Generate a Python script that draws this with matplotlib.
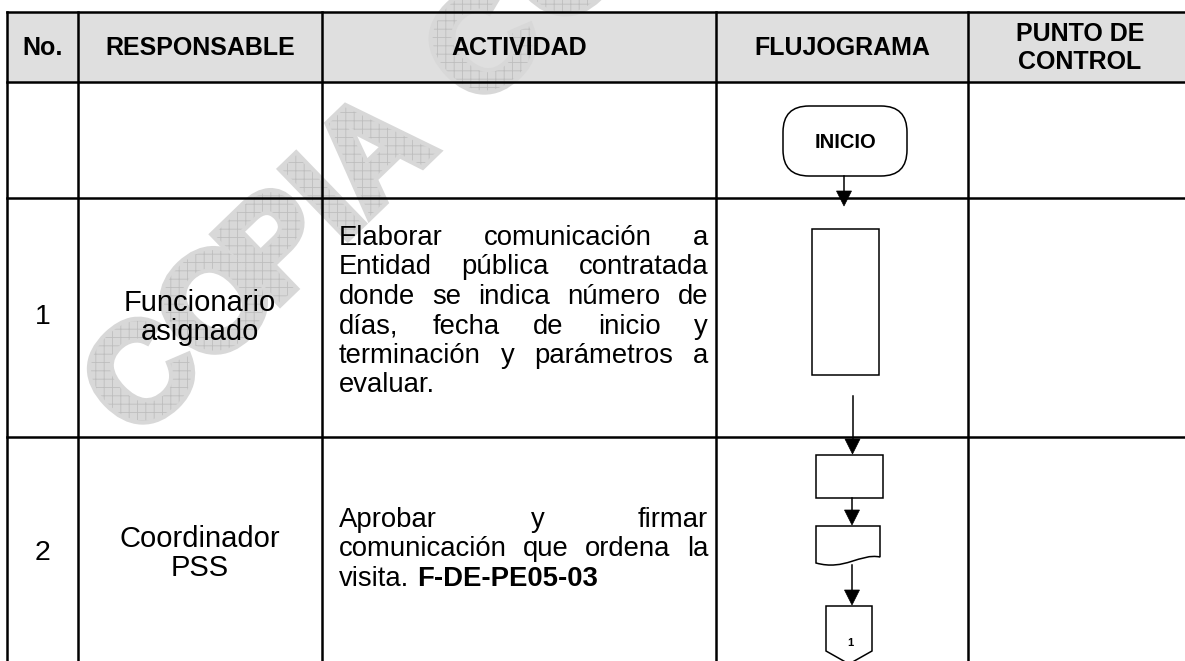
import numpy as np
import matplotlib.pyplot as plt
from matplotlib.patches import Rectangle, FancyBboxPatch, Polygon, PathPatch
from matplotlib.textpath import TextPath
from matplotlib.font_manager import FontProperties
from matplotlib.transforms import Affine2D
from matplotlib.path import Path

plt.rcParams['font.family'] = ['Liberation Sans', 'DejaVu Sans']
plt.rcParams['hatch.linewidth'] = 0.6

W, H = 1185, 661

# table content
headers = ['No.', 'RESPONSABLE', 'ACTIVIDAD', 'FLUJOGRAMA', 'PUNTO DE\nCONTROL']
numeros = ['', '1', '2']
responsables = ['', 'Funcionario\nasignado', 'Coordinador\nPSS']
actividad_1 = ['Elaborar comunicación a',
               'Entidad pública contratada',
               'donde se indica número de',
               'días, fecha de inicio y',
               'terminación y parámetros a',
               'evaluar.']
actividad_2 = ['Aprobar y firmar',
               'comunicación que ordena la',
               'visita.']
formato_2 = 'F-DE-PE05-03'
inicio = 'INICIO'
conector = '1'
marca = 'COPIACO'

# layout (pixels)
col_x = [7, 78, 322, 716, 968, 1192]
row_y = [12, 82, 198, 437, 670]
txt_x0, txt_x1 = 339, 708
lh = 29.5
fs_body = 19.8

fig = plt.figure(figsize=(W / 100, H / 100), dpi=100)
ax = fig.add_axes([0, 0, 1, 1])
ax.set_xlim(0, W)
ax.set_ylim(H, 0)
ax.axis('off')

# header background
ax.add_patch(Rectangle((col_x[0], row_y[0]), col_x[-1] - col_x[0], row_y[1] - row_y[0],
                       fc='#dfdfdf', ec='none', zorder=0))

# watermark, one letter at a time along a 44 degree baseline
fp_mark = FontProperties(family='Liberation Sans', weight='bold')
ang = 44
u = np.array([np.cos(np.radians(ang)), -np.sin(np.radians(ang))])
start = np.array([140, 372])
steps = [0, 103, 188, 253, 320, 475, 590]
for ch, s in zip(marca, steps):
    tp = TextPath((0, 0), ch, size=138, prop=fp_mark)
    ext = tp.get_extents()
    c = start + s * u
    tr = (Affine2D().translate(-(ext.x0 + ext.x1) / 2, -(ext.y0 + ext.y1) / 2)
          .scale(1, -1).rotate_deg(-ang).translate(c[0], c[1]))
    p = tr.transform_path(tp)
    ax.add_patch(PathPatch(p, fc='#d8d8d8', ec='#d8d8d8', lw=6, zorder=1))
    ax.add_patch(PathPatch(p, fc='#d8d8d8', ec='#bebebe', lw=0, hatch='++', zorder=1.1))

# grid lines
for y in row_y[:4]:
    ax.plot([col_x[0], W + 10], [y, y], color='k', lw=1.8, zorder=3)
for x in col_x:
    ax.plot([x, x], [row_y[0], H + 10], color='k', lw=1.8, zorder=3)

# header text
for i, h in enumerate(headers):
    cx = (col_x[i] + col_x[i + 1]) / 2
    ax.text(cx, (row_y[0] + row_y[1]) / 2 + 1, h, ha='center', va='center',
            fontsize=18, fontweight='bold', linespacing=1.25, zorder=4)

for i in range(1, 3):
    cy = (row_y[i + 1] + row_y[i + 2]) / 2
    ax.text((col_x[0] + col_x[1]) / 2, cy, numeros[i], ha='center', va='center',
            fontsize=20.5, zorder=4)
    ax.text((col_x[1] + col_x[2]) / 2, cy, responsables[i], ha='center', va='center',
            fontsize=21, linespacing=1.02, zorder=4)

renderer = fig.canvas.get_renderer()


def width_of(s, **kw):
    t = ax.text(0, 0, s, fontsize=fs_body, **kw)
    w = t.get_window_extent(renderer=renderer).width
    t.remove()
    return w


def justified(lines, y0, tail=None):
    for i, line in enumerate(lines):
        y = y0 + i * lh
        words = line.split()
        if i == len(lines) - 1 or len(words) == 1:
            ax.text(txt_x0, y, line, ha='left', va='baseline', fontsize=fs_body, zorder=4)
            if tail:
                x = txt_x0 + width_of(line + ' ')
                ax.text(x, y, tail, ha='left', va='baseline', fontsize=fs_body,
                        fontweight='bold', zorder=4)
            continue
        ws = [width_of(w) for w in words]
        gap = (txt_x1 - txt_x0 - sum(ws)) / (len(words) - 1)
        x = txt_x0
        for w, wd in zip(words, ws):
            ax.text(x, y, w, ha='left', va='baseline', fontsize=fs_body, zorder=4)
            x += wd + gap


justified(actividad_1, 245)
justified(actividad_2, 527, tail=formato_2)

# flowchart
lw = 1.1


def arrow(x, y0, y1):
    ax.plot([x, x], [y0, y1 - 12], color='k', lw=lw, zorder=4)
    ax.add_patch(Polygon([[x - 7.5, y1 - 15], [x + 7.5, y1 - 15], [x, y1]],
                         closed=True, fc='k', ec='k', lw=0.5, zorder=4))


ax.add_patch(FancyBboxPatch((783, 106), 124, 70, boxstyle='round,pad=0,rounding_size=26',
                            fc='white', ec='k', lw=lw, zorder=4))
ax.text(845, 142, inicio, ha='center', va='center', fontsize=14.5, fontweight='bold', zorder=5)
arrow(844, 176, 206)

ax.add_patch(Rectangle((812, 229), 67, 146, fc='white', ec='k', lw=lw, zorder=4))
arrow(852.5, 396, 454)
ax.add_patch(Rectangle((816, 455), 67, 43, fc='white', ec='k', lw=lw, zorder=4))
arrow(852, 498, 525)

doc = Path([(816, 526), (880, 526), (880, 557), (860, 553), (845, 571), (816, 563),
            (816, 526), (816, 526)],
           [Path.MOVETO, Path.LINETO, Path.LINETO, Path.CURVE4, Path.CURVE4, Path.CURVE4,
            Path.LINETO, Path.CLOSEPOLY])
ax.add_patch(PathPatch(doc, fc='white', ec='k', lw=lw, zorder=4))
arrow(852, 565, 605)

ax.add_patch(Polygon([[826, 606], [872, 606], [872, 651], [849, 664], [826, 651]],
                     closed=True, fc='white', ec='k', lw=lw, zorder=4))
ax.text(850, 643, conector, ha='center', va='center', fontsize=8, fontweight='bold', zorder=5)

fig.savefig('out.png', dpi=100)
